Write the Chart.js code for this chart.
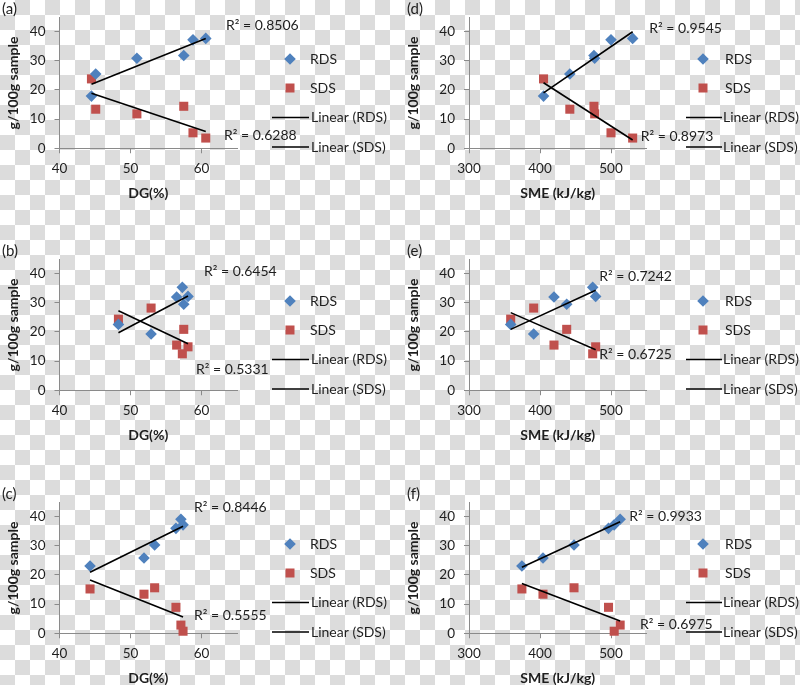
<!DOCTYPE html>
<html>
<head>
<meta charset="utf-8">
<script src="https://cdn.jsdelivr.net/npm/chart.js@4.4.1/dist/chart.umd.min.js"></script>
<style>
  html, body { margin: 0; padding: 0; }
  body {
    width: 800px; height: 685px; position: relative; overflow: hidden;
    background-color: #fff;
    background-image: conic-gradient(#dcdcdc 25%, transparent 0 50%, #dcdcdc 0 75%, transparent 0);
    background-size: 30px 30px;
  }
  canvas { position: absolute; }
</style>
</head>
<body>
<canvas id="pa"></canvas>
<canvas id="pd"></canvas>
<canvas id="pb"></canvas>
<canvas id="pe"></canvas>
<canvas id="pc"></canvas>
<canvas id="pf"></canvas>
<script>
  'use strict';

  // ── Data ────────────────────────────────────────────────────────────────
  // Same six samples plotted against DG (left) and SME (right) in each row.
  const DG_A   = [44.5, 45.1, 50.9, 57.5, 58.8, 60.6];
  const SME_D  = [405, 442, 477, 476, 500, 530.5];
  const RDS_AD = [17.9, 25.5, 30.9, 31.8, 37.2, 37.7];
  const SDS_AD = [23.8, 13.4, 11.8, 14.4, 5.3, 3.5];

  const DG_B   = [48.3, 52.9, 56.5, 57.5, 57.3, 58.1];
  const SME_E  = [358.7, 391.1, 419.7, 437.6, 474.2, 478.4];
  const RDS_BE = [22.6, 19.3, 32.0, 29.5, 35.3, 32.2];
  const SDS_BE = [24.4, 28.2, 15.5, 20.9, 12.5, 14.9];

  const DG_C   = [44.3, 51.9, 53.4, 56.4, 57.4, 57.1];
  const SME_F  = [374.5, 404.2, 447.9, 496.5, 504.5, 512.9];
  const RDS_CF = [23.1, 25.8, 30.3, 36.0, 37.2, 39.1];
  const SDS_CF = [15.2, 13.4, 15.6, 8.9, 0.7, 2.8];

  const R2_RDS = ['R\u00B2 = 0.8506', 'R\u00B2 = 0.9545', 'R\u00B2 = 0.6454', 'R\u00B2 = 0.7242', 'R\u00B2 = 0.8446', 'R\u00B2 = 0.9933'];
  const R2_SDS = ['R\u00B2 = 0.6288', 'R\u00B2 = 0.8973', 'R\u00B2 = 0.5331', 'R\u00B2 = 0.6725', 'R\u00B2 = 0.5555', 'R\u00B2 = 0.6975'];
  const TAGS   = ['(a)', '(d)', '(b)', '(e)', '(c)', '(f)'];

  const Y_TICKS   = [0, 10, 20, 30, 40];
  const DG_TICKS  = [40, 50, 60];
  const SME_TICKS = [300, 400, 500];

  // ── Look ────────────────────────────────────────────────────────────────
  const BLUE = '#4f81bd';
  const RED  = '#c0504d';
  const AXIS = '#8a8a8a';
  const TXT  = '#1e1e1e';
  const FONT = 'Lato, "Open Sans", sans-serif';

  Chart.defaults.font.family = FONT;
  Chart.defaults.font.size = 13.5;
  Chart.defaults.color = TXT;

  // column / row geometry (page px)
  const COLS = [
    { left: 0,   axisW: 59.5, min: 40,  max: 65,  ticks: DG_TICKS,  title: 'DG(%)',
      leg: { mark: 290, text: 310, l0: 272, l1: 309, ltext: 311 }, tagX: 2,   yTitleX: 13 },
    { left: 400, axisW: 69,   min: 300, max: 550, ticks: SME_TICKS, title: 'SME (kJ/kg)',
      leg: { mark: 303, text: 325, l0: 286, l1: 322, ltext: 323 }, tagX: 7,   yTitleX: 13.3 },
  ];
  const ROWS = [ { top: 0, h: 240 }, { top: 242, h: 240 }, { top: 485, h: 200 } ];
  const PLOT_TOP = 2, PLOT_BOTTOM = 148.25;

  // R² label anchors, canvas px (left edge, vertical middle)
  const R2_POS = [
    [[226, 25],    [224, 135]],
    [[249.3, 28.3],[240.7, 136]],
    [[204, 29.7],  [196, 127]],
    [[199.3, 34.7],[199.3, 112.3]],
    [[194, 22.7],  [194, 130]],
    [[229.3, 31.7],[240, 139]],
  ];

  // ── Least-squares trendline over the data range ─────────────────────────
  function trend(xs, ys) {
    const n = xs.length;
    const mx = xs.reduce((a, b) => a + b, 0) / n;
    const my = ys.reduce((a, b) => a + b, 0) / n;
    let sxy = 0, sxx = 0;
    xs.forEach((x, i) => { sxy += (x - mx) * (ys[i] - my); sxx += (x - mx) * (x - mx); });
    const k = sxy / sxx, b = my - k * mx;
    const x0 = Math.min(...xs), x1 = Math.max(...xs);
    return [{ x: x0, y: k * x0 + b }, { x: x1, y: k * x1 + b }];
  }

  const pts = (xs, ys) => xs.map((x, i) => ({ x, y: ys[i] }));

  // ── Decorations: tag, R² labels, axis titles, legend ────────────────────
  const decoPlugin = {
    id: 'deco',
    afterDraw(chart, args, o) {
      const ctx = chart.ctx;
      const ca = chart.chartArea;
      const lg = o.col.leg;
      ctx.save();
      ctx.fillStyle = TXT;
      ctx.textBaseline = 'middle';
      ctx.textAlign = 'left';

      ctx.font = '15px ' + FONT;
      ctx.fillText(o.tag, o.col.tagX, 9);
      ctx.font = '14px ' + FONT;
      ctx.fillText(o.r2[0], o.r2pos[0][0], o.r2pos[0][1]);
      ctx.fillText(o.r2[1], o.r2pos[1][0], o.r2pos[1][1]);

      // legend
      ctx.fillStyle = BLUE;
      ctx.beginPath();
      ctx.moveTo(lg.mark, 59 - 5.8); ctx.lineTo(lg.mark + 5.8, 59);
      ctx.lineTo(lg.mark, 59 + 5.8); ctx.lineTo(lg.mark - 5.8, 59);
      ctx.closePath(); ctx.fill();
      ctx.fillStyle = RED;
      ctx.fillRect(lg.mark - 4.5, 88 - 4.5, 9, 9);
      ctx.fillStyle = TXT;
      ctx.fillText('RDS', lg.text, 59);
      ctx.fillText('SDS', lg.text, 88);
      ctx.strokeStyle = '#000';
      ctx.lineWidth = 1.5;
      [[117.5, 'Linear (RDS)'], [147, 'Linear (SDS)']].forEach(([y, t]) => {
        ctx.beginPath(); ctx.moveTo(lg.l0, y); ctx.lineTo(lg.l1, y); ctx.stroke();
        ctx.fillText(t, lg.ltext, y);
      });

      // axis titles
      ctx.font = 'bold 14px ' + FONT;
      ctx.textAlign = 'center';
      ctx.fillText(o.col.title, (ca.left + ca.right) / 2, 193);
      ctx.translate(o.col.yTitleX, 83);
      ctx.rotate(-Math.PI / 2);
      ctx.fillText('g/100g sample', 0, 0);
      ctx.restore();
    }
  };

  function makePanel(id, idx, row, col, xs, rds, sds) {
    const R = ROWS[row], C = COLS[col];
    const cv = document.getElementById(id);
    cv.width = 400; cv.height = R.h;
    cv.style.left = C.left + 'px';
    cv.style.top = R.top + 'px';

    new Chart(cv, {
      type: 'scatter',
      data: {
        datasets: [
          { label: 'Linear (RDS)', data: trend(xs, rds), showLine: true, borderColor: '#000',
            borderWidth: 1.6, pointRadius: 0, order: 0, clip: false },
          { label: 'Linear (SDS)', data: trend(xs, sds), showLine: true, borderColor: '#000',
            borderWidth: 1.6, pointRadius: 0, order: 0, clip: false },
          { label: 'RDS', data: pts(xs, rds), pointStyle: 'rectRot', pointRadius: 5.8,
            backgroundColor: BLUE, borderColor: BLUE, borderWidth: 0, order: 1, clip: false },
          { label: 'SDS', data: pts(xs, sds), pointStyle: 'rect', pointRadius: 6.4,
            backgroundColor: RED, borderColor: RED, borderWidth: 0, order: 1, clip: false },
        ],
      },
      options: {
        responsive: false,
        animation: false,
        events: [],
        layout: { padding: { left: 0, top: PLOT_TOP, right: 400 - C.axisW - 177.5, bottom: 0 } },
        plugins: {
          legend: { display: false },
          tooltip: { enabled: false },
          deco: { tag: TAGS[idx], col: C, r2: [R2_RDS[idx], R2_SDS[idx]], r2pos: R2_POS[idx] },
        },
        scales: {
          x: {
            type: 'linear', min: C.min, max: C.max,
            afterBuildTicks: s => { s.ticks = C.ticks.map(v => ({ value: v })); },
            afterFit: s => { s.height = R.h - PLOT_BOTTOM; },
            grid: { drawOnChartArea: false, drawTicks: true, tickLength: 5, color: AXIS },
            border: { color: AXIS, width: 1 },
            ticks: { padding: 7, color: TXT, maxRotation: 0, autoSkip: false },
          },
          y: {
            type: 'linear', min: 0, max: 45,
            afterBuildTicks: s => { s.ticks = Y_TICKS.map(v => ({ value: v })); },
            afterFit: s => { s.width = C.axisW; },
            grid: { drawOnChartArea: false, drawTicks: true, tickLength: 5, color: AXIS },
            border: { color: AXIS, width: 1 },
            ticks: { padding: 9, color: TXT },
          },
        },
      },
      plugins: [decoPlugin],
    });
  }

  makePanel('pa', 0, 0, 0, DG_A,  RDS_AD, SDS_AD);
  makePanel('pd', 1, 0, 1, SME_D, RDS_AD, SDS_AD);
  makePanel('pb', 2, 1, 0, DG_B,  RDS_BE, SDS_BE);
  makePanel('pe', 3, 1, 1, SME_E, RDS_BE, SDS_BE);
  makePanel('pc', 4, 2, 0, DG_C,  RDS_CF, SDS_CF);
  makePanel('pf', 5, 2, 1, SME_F, RDS_CF, SDS_CF);
</script>
</body>
</html>
